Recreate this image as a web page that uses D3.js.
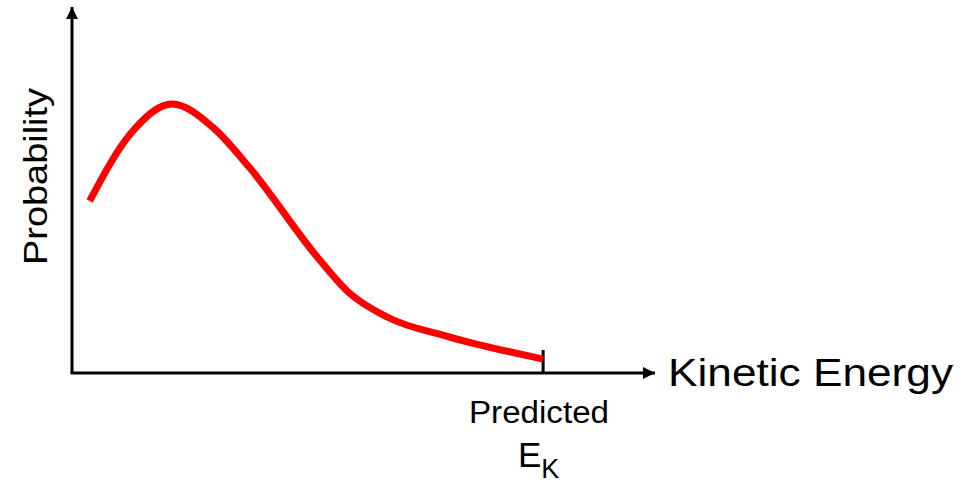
<!DOCTYPE html>
<html>
<head>
<meta charset="utf-8">
<script src="https://cdn.jsdelivr.net/npm/d3@7"></script>
<style>
  html, body { margin: 0; padding: 0; background: #fff; }
  svg { display: block; }
  text { font-family: Arial, "Liberation Sans", sans-serif; fill: #000; }
</style>
</head>
<body>
<div id="chart"></div>
<script>
// energy (arbitrary units) and probability
const energy = [3, 10, 17, 24, 30, 42, 47, 53.5, 64, 80];
const probability = [0.47, 0.655, 0.735, 0.67, 0.564, 0.31, 0.22, 0.153, 0.099, 0.038];
const predictedEnergy = 80;
const xLabel = "Kinetic Energy";
const yLabel = "Probability";
const tickLabel = "Predicted";

const WIDTH = 962;
const HEIGHT = 484;
const AXIS_STROKE = "#000";
const CURVE_STROKE = "#ff0000";

const svg = d3.select("#chart")
  .append("svg")
  .attr("width", WIDTH)
  .attr("height", HEIGHT);

const x = d3.scaleLinear().domain([0, 99]).range([72, 655]);
const y = d3.scaleLinear().domain([0, 1]).range([373, 7]);

// arrowheads
const defs = svg.append("defs");
defs.append("marker")
  .attr("id", "arrow")
  .attr("viewBox", "0 0 12 12")
  .attr("refX", 12)
  .attr("refY", 6)
  .attr("markerWidth", 12)
  .attr("markerHeight", 12)
  .attr("markerUnits", "userSpaceOnUse")
  .attr("orient", "auto")
  .append("path")
  .attr("d", "M0,0 L12,6 L0,12 Z")
  .attr("fill", AXIS_STROKE);

const axes = svg.append("g")
  .attr("stroke", AXIS_STROKE)
  .attr("stroke-width", 3)
  .attr("fill", "none");

axes.append("path")
  .attr("d", `M${x(0)},${y(0)} L${x(0)},${y(1)}`)
  .attr("marker-end", "url(#arrow)");
axes.append("path")
  .attr("d", `M${x(0) - 1.5},${y(0)} L${x(99)},${y(0)}`)
  .attr("marker-end", "url(#arrow)");

// predicted energy tick
axes.append("line")
  .attr("x1", x(predictedEnergy))
  .attr("x2", x(predictedEnergy))
  .attr("y1", y(0))
  .attr("y2", y(0) - 23);

// distribution curve
const line = d3.line()
  .x((d, i) => x(energy[i]))
  .y(d => y(d))
  .curve(d3.curveMonotoneX);

svg.append("path")
  .attr("d", line(probability))
  .attr("fill", "none")
  .attr("stroke", CURVE_STROKE)
  .attr("stroke-width", 7)
  .attr("stroke-linejoin", "round");

// labels
svg.append("text")
  .attr("x", 668)
  .attr("y", 386)
  .attr("font-size", 39)
  .attr("textLength", 285)
  .attr("lengthAdjust", "spacingAndGlyphs")
  .text(xLabel);

svg.append("text")
  .attr("transform", "translate(47,265) rotate(-90)")
  .attr("font-size", 33)
  .attr("textLength", 177)
  .attr("lengthAdjust", "spacingAndGlyphs")
  .text(yLabel);

svg.append("text")
  .attr("x", 469)
  .attr("y", 423)
  .attr("font-size", 31)
  .attr("textLength", 140)
  .attr("lengthAdjust", "spacingAndGlyphs")
  .text(tickLabel);

const ek = svg.append("text")
  .attr("x", 518)
  .attr("y", 467)
  .attr("font-size", 35);
ek.append("tspan").text("E");
ek.append("tspan")
  .attr("font-size", 27)
  .attr("dy", 11)
  .text("K");
</script>
</body>
</html>
